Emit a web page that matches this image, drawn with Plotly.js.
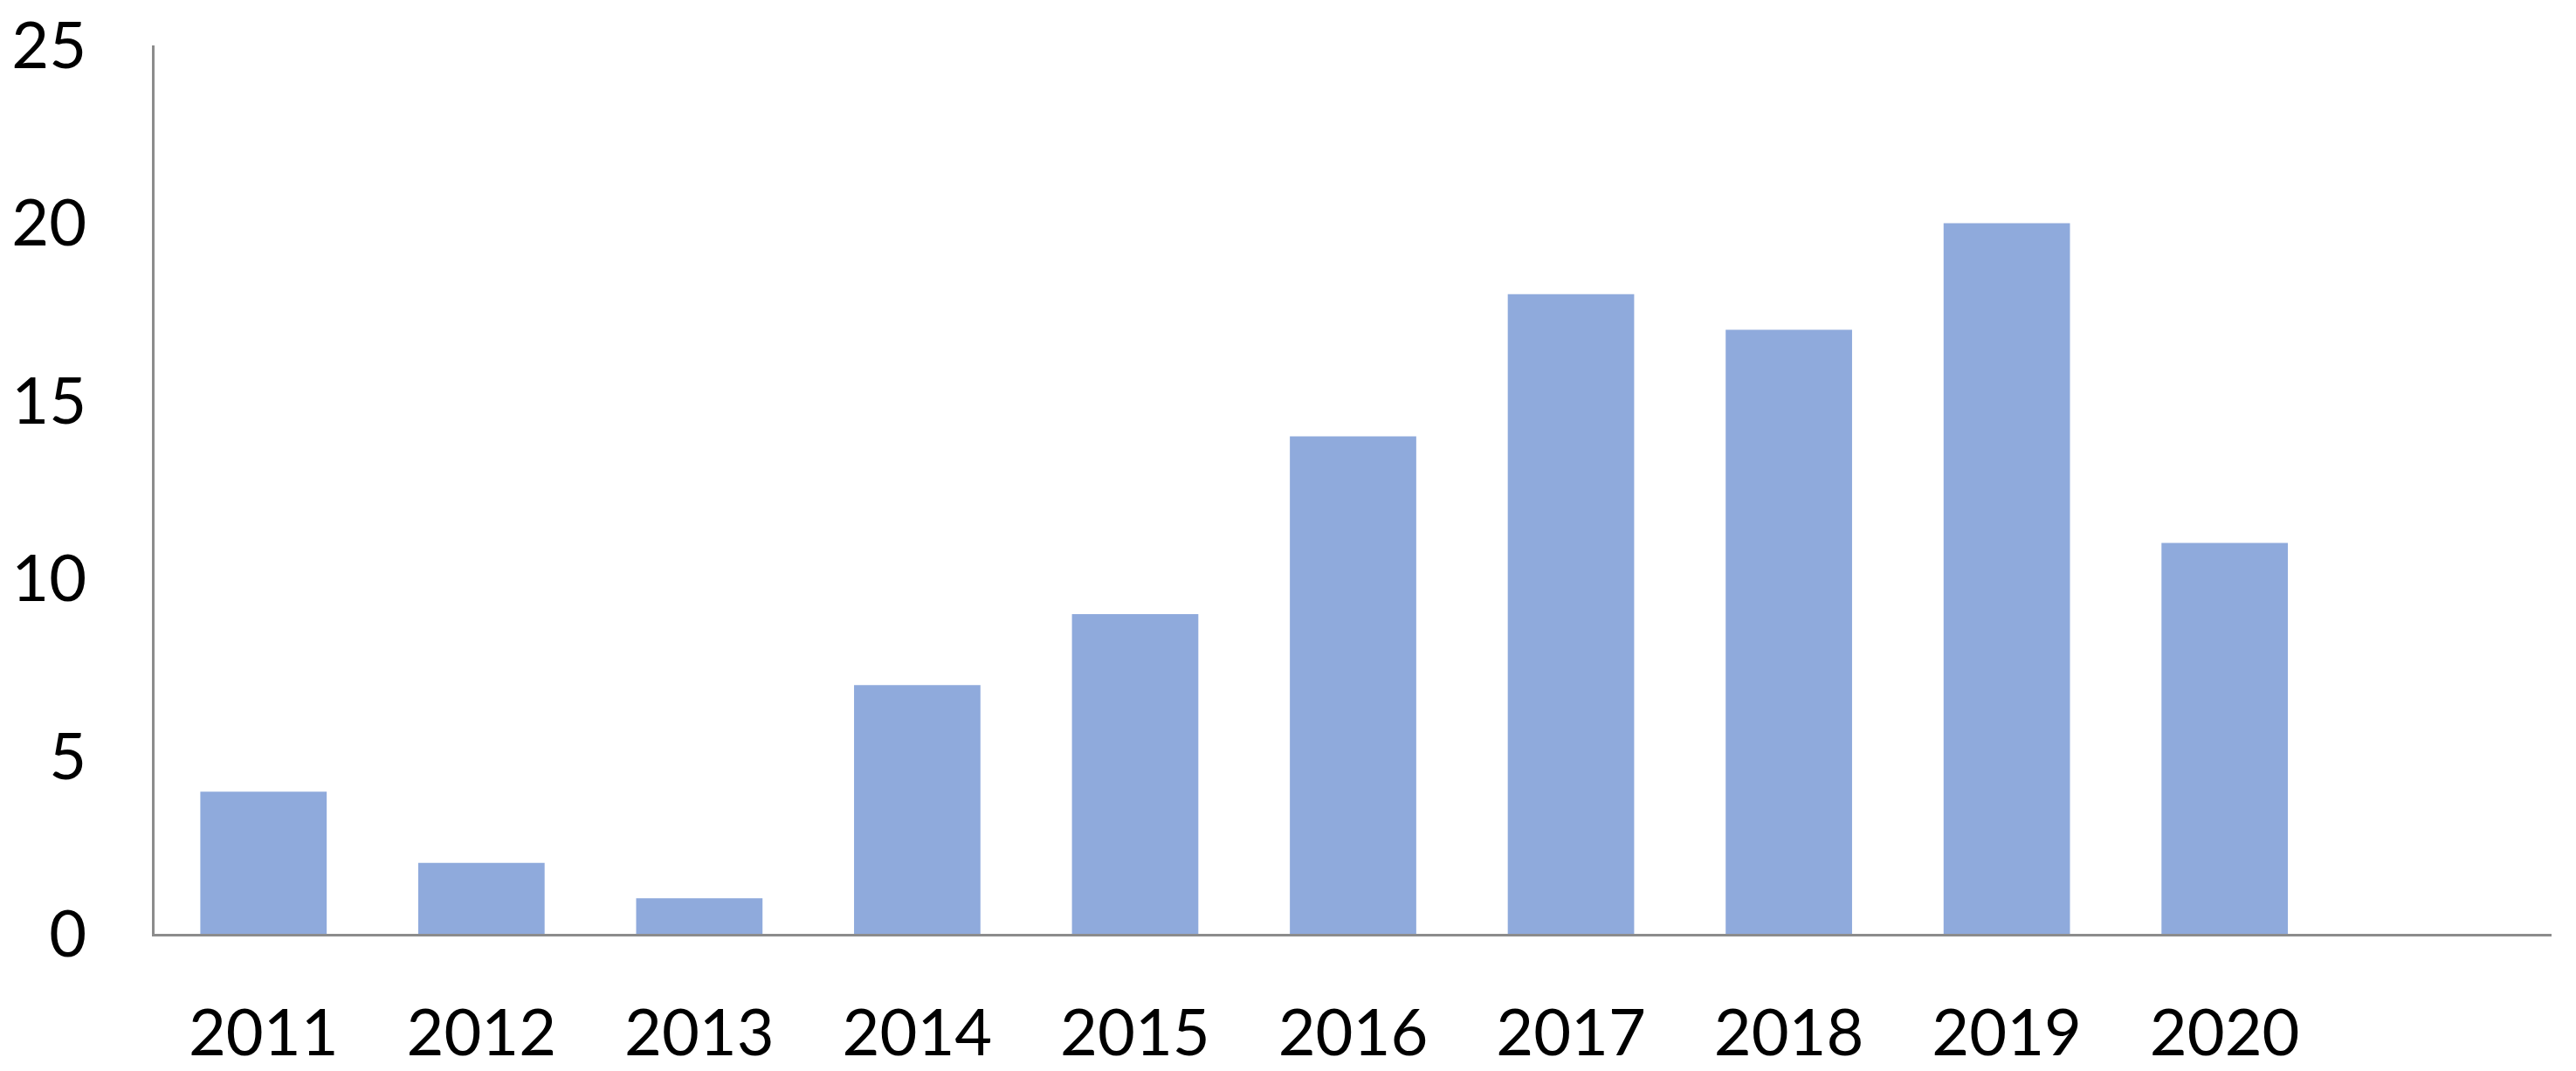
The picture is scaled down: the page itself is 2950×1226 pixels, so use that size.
<!DOCTYPE html>
<html>
<head>
<meta charset="utf-8">
<script src="https://cdn.plot.ly/plotly-3.0.1.min.js"></script>
<style>
  html, body { margin: 0; padding: 0; background: #fff; }
  #chart { width: 2950px; height: 1226px; }
</style>
</head>
<body>
<div id="chart"></div>
<script>
// Years and counts
var years = ["2011", "2012", "2013", "2014", "2015", "2016", "2017", "2018", "2019", "2020"];
var counts = [4, 2, 1, 7, 9, 14, 18, 17, 20, 11];
var yTicks = [0, 5, 10, 15, 20, 25];

var bars = {
  x: years,
  y: counts,
  type: "bar",
  marker: { color: "rgb(143, 170, 220)" },
  hoverinfo: "x+y"
};

var layout = {
  width: 2950,
  height: 1226,
  margin: { l: 177, r: 28, t: 52, b: 157 },
  paper_bgcolor: "#fff",
  plot_bgcolor: "#fff",
  bargap: 0.42,
  showlegend: false,
  font: { family: "Lato, 'Open Sans', sans-serif", size: 74, color: "#000" },
  xaxis: {
    type: "category",
    range: [-0.5, 10.5],
    showline: true,
    linecolor: "#8c8c8c",
    linewidth: 3,
    showgrid: false,
    zeroline: false,
    ticks: "",
    ticklabelstandoff: 47
  },
  yaxis: {
    range: [0, 25],
    tickvals: yTicks,
    showline: true,
    linecolor: "#8c8c8c",
    linewidth: 3,
    showgrid: false,
    zeroline: false,
    ticks: "",
    ticklabelstandoff: 60
  }
};

Plotly.newPlot("chart", [bars], layout, { displayModeBar: false, staticPlot: true });
</script>
</body>
</html>
